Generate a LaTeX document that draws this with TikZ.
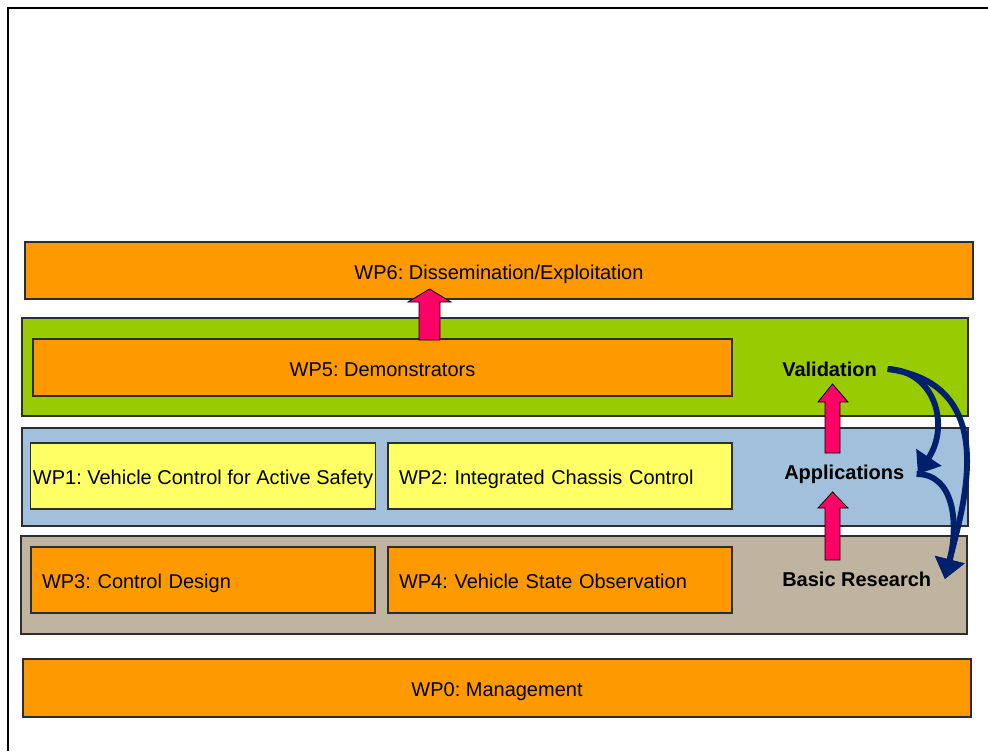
\documentclass[tikz,border=0pt]{standalone}
\usepackage{fontspec}
\setmainfont{Liberation Sans}
\usetikzlibrary{arrows.meta}
\frenchspacing

\definecolor{wporange}{RGB}{255,153,0}
\definecolor{wpyellow}{RGB}{255,255,102}
\definecolor{valgreen}{RGB}{153,204,0}
\definecolor{appblue}{RGB}{160,192,219}
\definecolor{restan}{RGB}{190,180,160}
\definecolor{uppink}{RGB}{255,0,102}
\definecolor{flownavy}{RGB}{0,32,110}
\definecolor{edgegray}{RGB}{45,45,45}

\begin{document}
\begin{tikzpicture}[x=0.75pt,y=0.75pt,yscale=-1,xscale=1,
    wpfont/.style={font=\fontsize{15}{17}\selectfont},
    wpbox/.style={draw=edgegray, line width=0.9pt, inner sep=2pt, text height=15.9pt, text depth=3.1pt, wpfont},
    leftbox/.style={wpbox, align=left, text width=241.5pt, inner xsep=8.25pt},
    band/.style={draw=edgegray, line width=0.9pt, minimum width=709.5pt, minimum height=73.5pt},
    layerlabel/.style={anchor=west, inner sep=0pt, font=\fontsize{15}{17}\selectfont\bfseries},
    uparrow/.style={draw=black, line width=0.6pt, fill=uppink, line join=miter},
    flow/.style={draw=flownavy, line width=4.4pt, -{Triangle[length=15pt,width=22pt]}}]
    \useasboundingbox (0,0) rectangle (988,751);

    %Frame
    \draw [line width=1pt] (8,751) -- (8,8) -- (988,8);

    %Layer bands
    \node (valband) [band, fill=valgreen] at (495,367) {};
    \node (appband) [band, fill=appblue] at (495,477) {};
    \node (resband) [band, fill=restan] at (494,585) {};

    %Work packages
    \node (wp6) [wpbox, fill=wporange, minimum width=711pt, minimum height=42.75pt] at (499,270.5) {WP6: Dissemination/Exploitation};
    \node (wp5) [wpbox, fill=wporange, minimum width=524.25pt, minimum height=42.75pt] at (382.5,367.5) {WP5: Demonstrators};
    \node (wp1) [wpbox, fill=wpyellow, minimum width=258pt, minimum height=49.5pt] at (203,476) {WP1: Vehicle Control for Active Safety};
    \node (wp2) [leftbox, fill=wpyellow, minimum height=49.5pt] at (560,476) {WP2: Integrated Chassis Control};
    \node (wp3) [leftbox, fill=wporange, minimum height=49.5pt] at (203,580) {WP3: Control Design};
    \node (wp4) [leftbox, fill=wporange, minimum height=49.5pt] at (560,580) {WP4: Vehicle State Observation};
    \node (wp0) [wpbox, fill=wporange, minimum width=711pt, minimum height=43.5pt] at (497,688) {WP0: Management};

    %Shape: Up Arrow (WP5 to WP6)
    \draw [uparrow] (419,340) -- (419,302) -- (408,302) -- (429.5,289) -- (451,302) -- (440,302) -- (440,340) -- cycle ;
    %Shape: Up Arrow (Applications to Validation)
    \draw [uparrow] (825,453) -- (825,402) -- (818,402) -- (832.5,384) -- (848,402) -- (840,402) -- (840,453) -- cycle ;
    %Shape: Up Arrow (Basic Research to Applications)
    \draw [uparrow] (825,560) -- (825,508) -- (818,508) -- (832.5,492) -- (848,508) -- (840,508) -- (840,560) -- cycle ;

    % Text Node
    \node (val) [layerlabel] at (782,369) {Validation};
    % Text Node
    \node (app) [layerlabel] at (784,474) {Applications};
    % Text Node
    \node (res) [layerlabel] at (782,579) {Basic Research};

    %Feedback arrows
    \draw [flow] ([xshift=8pt]val.east) .. controls +(48,2) and +(32,-48) .. ([xshift=10pt]app.east);
    \draw [flow] ([xshift=8pt]val.east) .. controls +(115,15) and +(18,-72) .. ([xshift=10pt]res.east);
    \draw [flow] ([xshift=9pt]app.east) .. controls +(38,0) and +(14,-55) .. ([xshift=10pt]res.east);

\end{tikzpicture}
\end{document}
